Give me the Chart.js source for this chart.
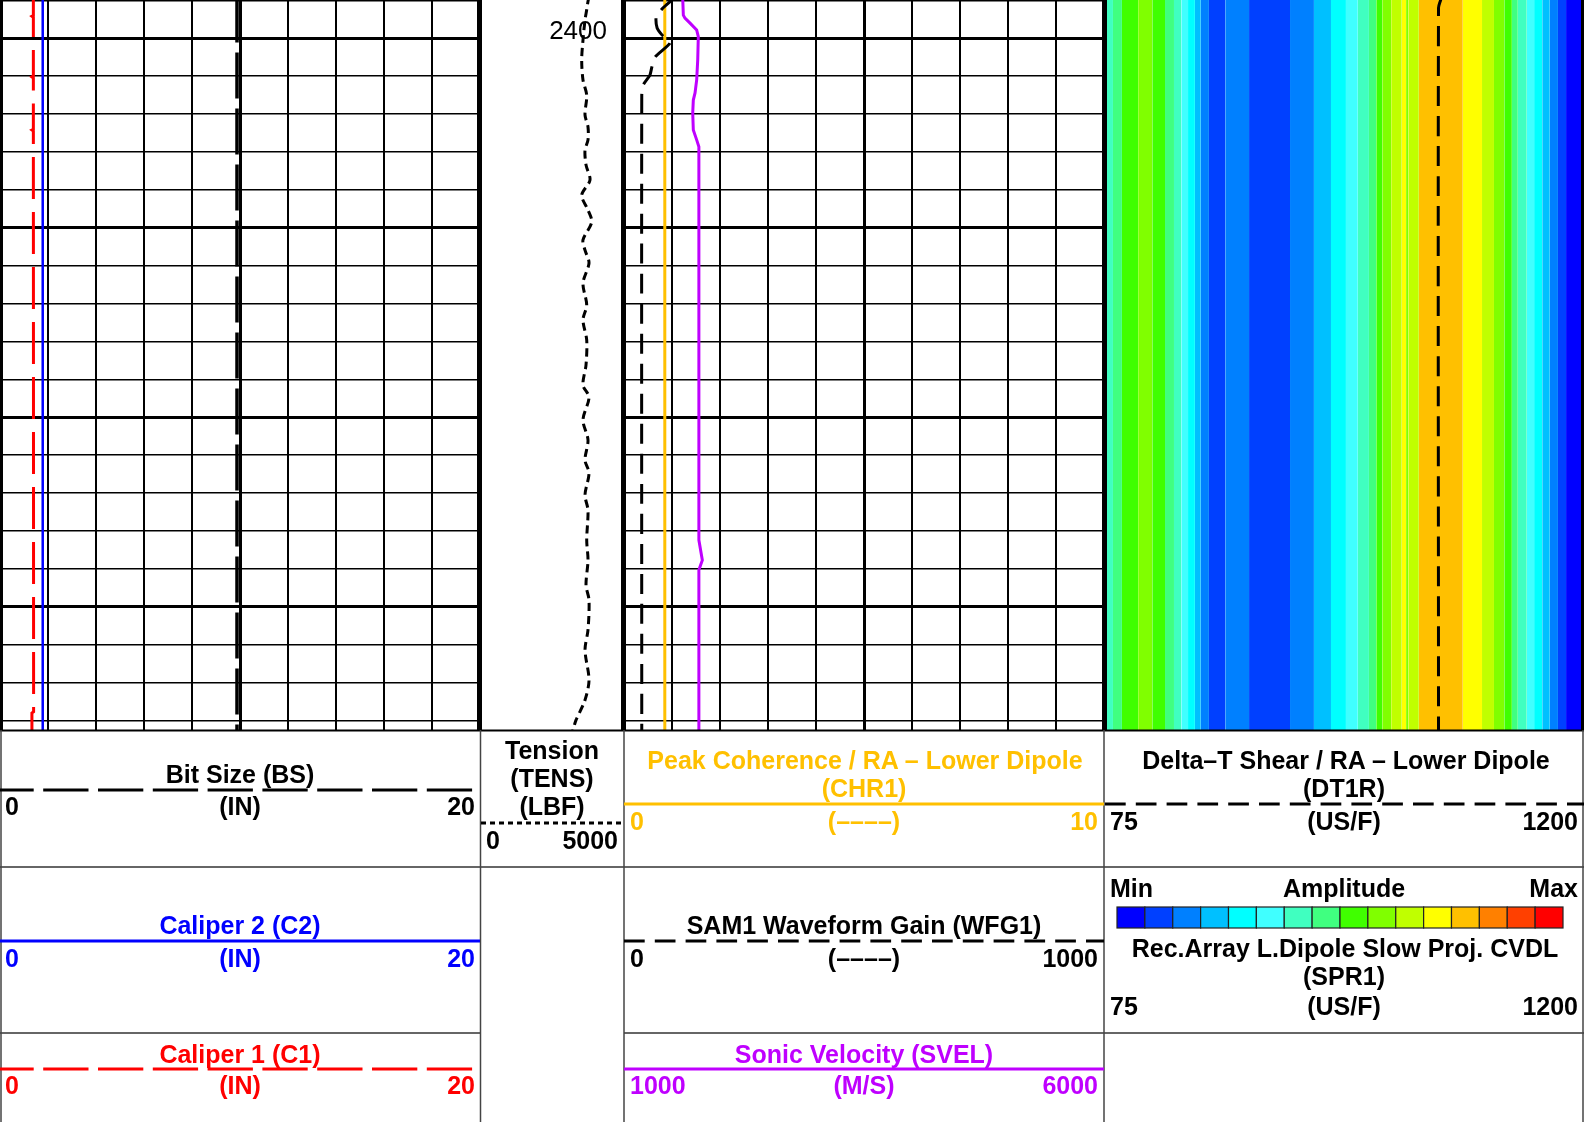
<!DOCTYPE html>
<html>
<head>
<meta charset="utf-8">
<script src="https://cdn.jsdelivr.net/npm/chart.js@4.4.1/dist/chart.umd.min.js"></script>
<style>
  html, body { margin:0; padding:0; background:#fff; }
  body { width:1596px; height:1122px; overflow:hidden; font-family:"Liberation Sans", Arial, sans-serif; }
  #wrap { position:relative; width:1596px; height:1122px; }
  canvas { position:absolute; top:0; }
  .tb { position:absolute; top:0; height:730px; background:#000; }
  .ht { position:absolute; font-weight:bold; font-size:25px; line-height:28px; height:28px; white-space:nowrap; }
  svg { position:absolute; left:0; top:0; }
</style>
</head>
<body>
<div id="wrap">
  <canvas id="track1" width="480" height="730" style="left:0px"></canvas>
  <canvas id="trackDepth" width="144" height="730" style="left:480px"></canvas>
  <canvas id="track3" width="480" height="730" style="left:624px"></canvas>
  <canvas id="track4" width="480" height="730" style="left:1104px"></canvas>
  <div class="tb" style="left:0px;width:3px"></div>
  <div class="tb" style="left:477px;width:5px"></div>
  <div class="tb" style="left:621px;width:5px"></div>
  <div class="tb" style="left:1102px;width:5px"></div>
  <div class="tb" style="left:1581px;width:3px"></div>
  <svg id="hdr" width="1596" height="1122"></svg>
</div>
<script>
// ---------------- DATA ----------------
const DEPTH_TOP = 2398.99;
const DEPTH_BOTTOM = 2418.25;
const depthGridLines = [2399,2400,2401,2402,2403,2404,2405,2406,2407,2408,2409,2410,2411,2412,2413,2414,2415,2416,2417,2418];
const depthLabels = [2400];

// Track 1 (IN, 0-20)
const bitSizeDepth = [2398.9, 2418.4];
const bitSizeIn = [9.875, 9.875];
const caliper2Depth = [2398.9, 2418.4];
const caliper2In = [1.78, 1.78];
const caliper1Depth = [2398.9, 2399.40, 2399.42, 2399.45, 2401.00, 2401.02, 2401.05, 2402.40, 2402.42, 2402.45, 2417.77, 2417.80, 2418.4];
const caliper1In = [1.39, 1.39, 1.33, 1.39, 1.39, 1.33, 1.39, 1.39, 1.33, 1.39, 1.40, 1.33, 1.33];

// Depth track: Tension (LBF, 0-5000)
const tensionDepth = [2398.90, 2398.99, 2399.25, 2399.52, 2400.05, 2400.57, 2401.10, 2401.50, 2402.02, 2402.34, 2402.68, 2402.95, 2403.34, 2403.74, 2404.14, 2404.53, 2404.85, 2405.32, 2405.59, 2405.93, 2406.46, 2407.04, 2407.43, 2407.96, 2408.62, 2409.15, 2409.47, 2410.07, 2410.60, 2411.13, 2411.47, 2412.05, 2412.45, 2413.24, 2413.77, 2414.43, 2414.82, 2415.61, 2416.14, 2416.93, 2417.46, 2417.99, 2418.25, 2418.40];
const tensionLbf = [3800, 3760, 3705, 3646, 3576, 3531, 3576, 3705, 3646, 3750, 3750, 3646, 3681, 3819, 3531, 3750, 3878, 3576, 3646, 3785, 3576, 3705, 3576, 3705, 3681, 3576, 3785, 3576, 3750, 3646, 3785, 3646, 3750, 3705, 3750, 3681, 3785, 3750, 3646, 3785, 3646, 3333, 3229, 3170];

// Track 3
const chr1Depth = [2398.9, 2418.4];
const chr1Value = [0.85, 0.85];                       // 0-10
const wfg1Depth = [2398.90, 2398.99, 2399.20, 2399.44, 2399.73, 2399.91, 2400.12, 2400.49, 2400.76, 2400.97, 2401.23, 2401.50, 2418.40];
const wfg1Value = [108, 100, 81, 67, 69, 79, 96, 65, 58, 54, 40, 37, 37];   // 0-1000
const svelDepth = [2398.90, 2399.39, 2399.47, 2399.60, 2399.78, 2399.96, 2400.57, 2401.10, 2401.44, 2401.63, 2401.97, 2402.42, 2402.68, 2402.86, 2413.24, 2413.77, 2414.03, 2418.40];
const svelValue = [1611, 1618, 1635, 1688, 1757, 1774, 1768, 1757, 1740, 1722, 1716, 1722, 1757, 1780, 1780, 1816, 1780, 1780]; // 1000-6000 M/S

// Track 4 (US/F, 75-1200)
const dt1rDepth = [2398.90, 2398.99, 2399.20, 2418.40];
const dt1rValue = [866, 864, 859, 859];
const spr1SlownessEdges = [75, 96, 117, 155, 188, 218, 239, 256, 272, 288, 302, 321, 359, 415, 511, 567, 607, 642, 670, 696, 713, 727, 748, 773, 783, 788, 813, 916, 961, 989, 1013, 1031, 1045, 1066, 1083, 1102, 1120, 1139, 1158, 1200];
const spr1AmplitudeLevel = [6,7,8,9,8,7,6,5,4,3, 2,1,2,1,2,3,4,5,6,7, 8,9,10,11,9,10,12,11,10,9, 8,7,6,5,4,3,2,1,0];
const amplitudeColors = ['#0000FF','#0040FF','#0080FF','#00C0FF','#00FFFF','#40FFFF','#40FFC0','#40FF80','#40FF00','#80FF00','#C0FF00','#FFFF00','#FFC000','#FF8000','#FF4000','#FF0000'];

const ORANGE = '#FFC000', PURPLE = '#BF00FF', BLUE = '#0000FF', RED = '#FF0000';

// ---------------- CHARTS ----------------
Chart.defaults.font.family = "'Liberation Sans', Arial, sans-serif";

function series(depths, values, extra) {
  return Object.assign({
    data: depths.map((d, i) => ({ x: values[i], y: d })),
    showLine: true, pointRadius: 0, borderWidth: 3, fill: false, tension: 0
  }, extra);
}
function depthScale(gridOn) {
  return {
    type: 'linear', reverse: true, min: DEPTH_TOP, max: DEPTH_BOTTOM,
    ticks: { display: false }, border: { display: false },
    grid: { display: gridOn, drawTicks: false, color: '#000',
            lineWidth: c => (c.tick && Math.round(c.tick.value) % 5 === 0) ? 3 : 1.5 },
    afterBuildTicks: s => { s.ticks = depthGridLines.map(v => ({ value: v })); }
  };
}
function valueScale(min, max, step, major, gridOn, display) {
  return {
    type: 'linear', min, max, display: display !== false,
    ticks: { display: false, stepSize: step }, border: { display: false },
    grid: { display: gridOn, drawTicks: false, color: '#000',
            lineWidth: c => (c.tick && c.tick.value === major) ? 3 : 2 }
  };
}
function makeChart(id, datasets, scales, plugins) {
  return new Chart(document.getElementById(id), {
    type: 'scatter',
    data: { datasets },
    options: {
      responsive: false, animation: false, events: [],
      layout: { padding: 0 },
      plugins: { legend: { display: false }, tooltip: { enabled: false } },
      scales
    },
    plugins: plugins || []
  });
}

// Track 1
makeChart('track1', [
  series(bitSizeDepth, bitSizeIn, { borderColor: '#000', borderWidth: 3.5, borderDash: [46, 10] }),
  series(caliper2Depth, caliper2In, { borderColor: BLUE, borderWidth: 2.5 }),
  series(caliper1Depth, caliper1In, { borderColor: RED, borderWidth: 3, borderDash: [42, 13] })
], { x: valueScale(0, 20, 2, 10, true), y: depthScale(true) });

// Depth track
const depthLabelPlugin = {
  id: 'depthLabels',
  afterDatasetsDraw(chart) {
    const { ctx, chartArea, scales } = chart;
    ctx.save();
    ctx.font = '26px "Liberation Sans", Arial, sans-serif';
    ctx.fillStyle = '#000';
    ctx.textAlign = 'right';
    ctx.textBaseline = 'alphabetic';
    depthLabels.forEach(v => ctx.fillText(String(v), chartArea.right - 17, scales.y.getPixelForValue(v) + 1));
    ctx.restore();
  }
};
makeChart('trackDepth', [
  series(tensionDepth, tensionLbf, { borderColor: '#000', borderWidth: 3, borderDash: [8, 5], tension: 0.3 })
], { x: valueScale(0, 5000, 1000, -1, false, false), y: depthScale(false) }, [depthLabelPlugin]);

// Track 3
makeChart('track3', [
  series(svelDepth, svelValue, { borderColor: PURPLE, borderWidth: 3, xAxisID: 'xS' }),
  series(wfg1Depth, wfg1Value, { borderColor: '#000', borderWidth: 3, borderDash: [20, 10], xAxisID: 'xW', tension: 0.2 }),
  series(chr1Depth, chr1Value, { borderColor: ORANGE, borderWidth: 3, xAxisID: 'x' })
], {
  x: valueScale(0, 10, 1, 5, true),
  xW: valueScale(0, 1000, 100, -1, false, false),
  xS: valueScale(1000, 6000, 500, -1, false, false),
  y: depthScale(true)
});

// Track 4: SPR1 amplitude image as slowness bands, DT1R curve on top
const bandSets = spr1AmplitudeLevel.map((lvl, i) => ({
  data: [{ x: spr1SlownessEdges[i], y: DEPTH_TOP }, { x: spr1SlownessEdges[i + 1], y: DEPTH_TOP }],
  showLine: true, pointRadius: 0, borderWidth: 0, borderColor: amplitudeColors[lvl],
  backgroundColor: amplitudeColors[lvl], fill: { value: DEPTH_BOTTOM }, order: 1
}));
makeChart('track4', [
  series(dt1rDepth, dt1rValue, { borderColor: '#000', borderWidth: 3, borderDash: [20, 10], order: 0, tension: 0.3 }),
  ...bandSets
], { x: valueScale(75, 1200, 112.5, -1, false, false), y: depthScale(false) });

// ---------------- HEADER ----------------
const wrap = document.getElementById('wrap');
const headerTexts = [
  // [text, align, x, baseline, color]
  ['Bit Size (BS)', 'c', 240, 783, '#000'],
  ['0', 'l', 5, 815, '#000'], ['(IN)', 'c', 240, 815, '#000'], ['20', 'r', 475, 815, '#000'],
  ['Caliper 2 (C2)', 'c', 240, 934, BLUE],
  ['0', 'l', 5, 967, BLUE], ['(IN)', 'c', 240, 967, BLUE], ['20', 'r', 475, 967, BLUE],
  ['Caliper 1 (C1)', 'c', 240, 1063, RED],
  ['0', 'l', 5, 1094, RED], ['(IN)', 'c', 240, 1094, RED], ['20', 'r', 475, 1094, RED],
  ['Tension', 'c', 552, 759, '#000'], ['(TENS)', 'c', 552, 787, '#000'], ['(LBF)', 'c', 552, 815, '#000'],
  ['0', 'l', 486, 849, '#000'], ['5000', 'r', 618, 849, '#000'],
  ['Peak Coherence / RA \u2013 Lower Dipole', 'c', 865, 769, ORANGE], ['(CHR1)', 'c', 864, 797, ORANGE],
  ['0', 'l', 630, 830, ORANGE], ['(\u2013\u2013\u2013\u2013)', 'c', 864, 830, ORANGE], ['10', 'r', 1098, 830, ORANGE],
  ['SAM1 Waveform Gain (WFG1)', 'c', 864, 934, '#000'],
  ['0', 'l', 630, 967, '#000'], ['(\u2013\u2013\u2013\u2013)', 'c', 864, 967, '#000'], ['1000', 'r', 1098, 967, '#000'],
  ['Sonic Velocity (SVEL)', 'c', 864, 1063, PURPLE],
  ['1000', 'l', 630, 1094, PURPLE], ['(M/S)', 'c', 864, 1094, PURPLE], ['6000', 'r', 1098, 1094, PURPLE],
  ['Delta\u2013T Shear / RA \u2013 Lower Dipole', 'c', 1346, 769, '#000'], ['(DT1R)', 'c', 1344, 797, '#000'],
  ['75', 'l', 1110, 830, '#000'], ['(US/F)', 'c', 1344, 830, '#000'], ['1200', 'r', 1578, 830, '#000'],
  ['Min', 'l', 1110, 897, '#000'], ['Amplitude', 'c', 1344, 897, '#000'], ['Max', 'r', 1578, 897, '#000'],
  ['Rec.Array L.Dipole Slow Proj. CVDL', 'c', 1345, 957, '#000'], ['(SPR1)', 'c', 1344, 985, '#000'],
  ['75', 'l', 1110, 1015, '#000'], ['(US/F)', 'c', 1344, 1015, '#000'], ['1200', 'r', 1578, 1015, '#000']
];
headerTexts.forEach(([t, a, x, bl, col]) => {
  const d = document.createElement('div');
  d.className = 'ht';
  d.textContent = t;
  d.style.color = col;
  d.style.top = (bl - 22.7) + 'px';
  d.style.width = '600px';
  if (a === 'c') { d.style.left = (x - 300) + 'px'; d.style.textAlign = 'center'; }
  else if (a === 'l') { d.style.left = x + 'px'; d.style.textAlign = 'left'; }
  else { d.style.left = (x - 600) + 'px'; d.style.textAlign = 'right'; }
  wrap.appendChild(d);
});

const svg = document.getElementById('hdr');
const NS = 'http://www.w3.org/2000/svg';
function line(x1, y1, x2, y2, stroke, w, dash, off) {
  const l = document.createElementNS(NS, 'line');
  l.setAttribute('x1', x1); l.setAttribute('y1', y1); l.setAttribute('x2', x2); l.setAttribute('y2', y2);
  l.setAttribute('stroke', stroke); l.setAttribute('stroke-width', w);
  if (dash) l.setAttribute('stroke-dasharray', dash);
  if (off) l.setAttribute('stroke-dashoffset', off);
  svg.appendChild(l);
}
// frame lines
line(0, 730.5, 1584, 730.5, '#000', 2);
line(0, 867, 1584, 867, '#333', 1.5);
line(0, 1033, 480, 1033, '#333', 1.5);
line(624, 1033, 1584, 1033, '#333', 1.5);
[1, 480.5, 624, 1104, 1583].forEach(x => line(x, 730, x, 1122, '#444', 1.5));
// curve keys
line(0, 790, 480, 790, '#000', 3, '45.3 9.5', 11.6);
line(0, 941, 480, 941, BLUE, 3);
line(0, 1069, 480, 1069, RED, 3, '45.3 9.5', 11.6);
line(481, 823, 624, 823, '#000', 3, '5 4');
line(624, 804, 1104, 804, ORANGE, 3);
line(624, 941, 1104, 941, '#000', 3, '20.7 10.1');
line(624, 1069, 1104, 1069, PURPLE, 3);
line(1105, 804, 1584, 804, '#000', 3, '20.7 10.1');
// amplitude colour bar
const cbX0 = 1117, cbX1 = 1563, cbY = 907, cbH = 21;
const cw = (cbX1 - cbX0) / amplitudeColors.length;
amplitudeColors.forEach((c, i) => {
  const r = document.createElementNS(NS, 'rect');
  r.setAttribute('x', cbX0 + i * cw); r.setAttribute('y', cbY);
  r.setAttribute('width', cw); r.setAttribute('height', cbH);
  r.setAttribute('fill', c); r.setAttribute('stroke', '#222'); r.setAttribute('stroke-width', 1.2);
  svg.appendChild(r);
});
</script>
</body>
</html>
